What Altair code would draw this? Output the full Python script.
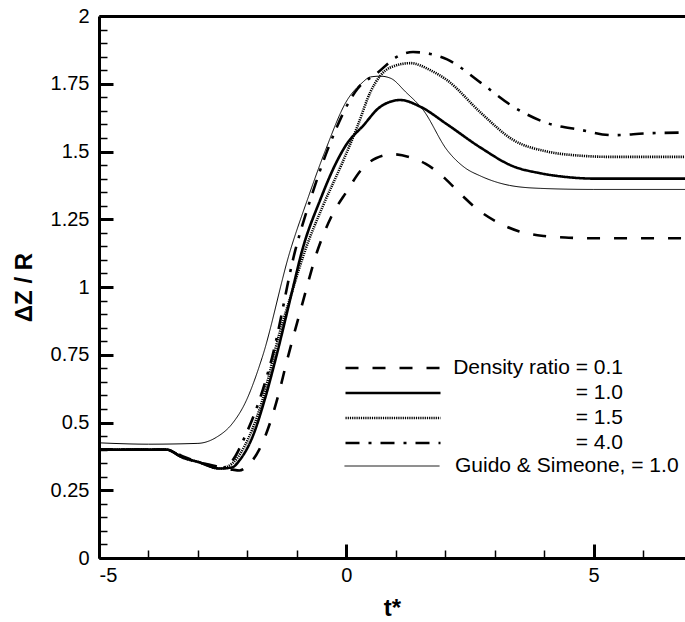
import altair as alt
import pandas as pd

# ---------------- data ----------------
sim_names = ["Density ratio = 0.1", "= 1.0", "= 1.5", "= 4.0"]
ref_names = ["Guido & Simeone, = 1.0"]

x01 = [-5.0, -4.0, -3.6, -3.3, -3.0, -2.6, -2.3, -2.16, -2.0, -1.76, -1.52, -1.36, -1.21, -0.9,
       -0.59, -0.3, 0.0, 0.34, 0.6, 0.95, 1.3, 1.6, 2.0, 2.3, 2.7, 3.1, 3.5, 4.0, 4.5, 5.0, 6.0, 6.85]
y01 = [0.40, 0.40, 0.40, 0.375, 0.355, 0.337, 0.326, 0.323, 0.34, 0.40, 0.51, 0.61, 0.72, 0.93,
       1.13, 1.26, 1.35, 1.44, 1.475, 1.49, 1.478, 1.455, 1.40, 1.345, 1.28, 1.235, 1.205, 1.188,
       1.182, 1.18, 1.18, 1.18]

x10 = [-5.0, -4.0, -3.64, -3.3, -2.97, -2.55, -2.3, -2.16, -1.9, -1.64, -1.42, -1.1, -0.89, -0.53,
       -0.2, 0.0, 0.34, 0.69, 1.09, 1.5, 2.04, 2.71, 3.38, 3.92, 4.5, 5.0, 6.0, 6.85]
y10 = [0.40, 0.40, 0.40, 0.37, 0.353, 0.33, 0.335, 0.36, 0.445, 0.59, 0.74, 0.98, 1.136, 1.32,
       1.46, 1.525, 1.595, 1.665, 1.69, 1.665, 1.60, 1.515, 1.445, 1.42, 1.405, 1.40, 1.40, 1.40]

x15 = [-5.0, -4.0, -3.64, -3.3, -2.97, -2.55, -2.3, -1.97, -1.7, -1.5, -1.44, -1.1, -0.83, -0.47,
       -0.1, 0.22, 0.49, 0.89, 1.3, 1.7, 2.04, 2.71, 3.38, 4.06, 4.7, 5.4, 6.0, 6.85]
y15 = [0.40, 0.40, 0.40, 0.37, 0.353, 0.33, 0.35, 0.445, 0.58, 0.72, 0.766, 0.98, 1.136, 1.30,
       1.45, 1.59, 1.72, 1.81, 1.826, 1.80, 1.763, 1.645, 1.542, 1.50, 1.485, 1.48, 1.48, 1.48]

x40 = [-5.0, -4.0, -3.64, -3.3, -2.97, -2.55, -2.3, -2.02, -1.78, -1.5, -1.03, -0.73, -0.38, 0.22,
       0.63, 1.03, 1.35, 1.7, 2.04, 2.71, 3.38, 4.06, 4.73, 5.4, 6.08, 6.85]
y40 = [0.40, 0.40, 0.40, 0.37, 0.353, 0.33, 0.36, 0.46, 0.57, 0.74, 1.136, 1.32, 1.505, 1.73,
       1.79, 1.85, 1.867, 1.86, 1.84, 1.755, 1.665, 1.605, 1.58, 1.56, 1.567, 1.57]

xgs = [-5.0, -4.0, -3.0, -2.63, -2.3, -2.05, -1.7, -1.13, -0.79, -0.42, 0.02, 0.3, 0.49, 0.69,
       0.9, 1.2, 1.56, 2.04, 2.4, 2.71, 3.3, 3.92, 5.0, 6.0, 6.85]
ygs = [0.425, 0.42, 0.423, 0.445, 0.497, 0.57, 0.74, 1.136, 1.32, 1.505, 1.69, 1.75, 1.775, 1.778,
       1.77, 1.72, 1.652, 1.505, 1.44, 1.41, 1.375, 1.364, 1.36, 1.36, 1.36]

x_ticks_major = [-5, 0, 5]
x_ticks_minor = [-4, -3, -2, -1, 1, 2, 3, 4, 6]
y_ticks_major = [0, 0.25, 0.5, 0.75, 1, 1.25, 1.5, 1.75, 2]
y_ticks_minor = [round(i * 0.05, 2) for i in range(41) if i % 5 != 0]

sim_rows = []
for name, xs, ys in zip(sim_names, [x01, x10, x15, x40], [y01, y10, y15, y40]):
    sim_rows += [{"series": name, "t": a, "dz": b} for a, b in zip(xs, ys)]
sim_df = pd.DataFrame(sim_rows)
ref_df = pd.DataFrame({"series": ref_names * len(xgs), "t": xgs, "dz": ygs})
all_df = pd.concat([sim_df, ref_df], ignore_index=True)

# ---------------- styling ----------------
FONT = "Liberation Sans"
W, H = 586, 542
xscale = alt.Scale(domain=[-5, 6.85], nice=False, zero=False)
yscale = alt.Scale(domain=[0, 2], nice=False, zero=False)
sim_dash = [[13, 14], [1, 0], [1.2, 1.0], [14, 9, 3, 9]]

common_legend = dict(
    title=None, orient="none", symbolType="stroke", symbolSize=9025,
    symbolStrokeColor="black", clipHeight=24, rowPadding=1, padding=0, offset=0,
    labelFont=FONT, labelFontSize=21, labelColor="black", labelBaseline="middle",
    labelLimit=400,
)

x_main = alt.X("t:Q", scale=xscale, axis=alt.Axis(
    orient="bottom", values=x_ticks_major, labelExpr="datum.value + ''",
    ticks=False, tickSize=0, domain=True, domainColor="black", domainWidth=3, grid=False,
    labelFont=FONT, labelFontSize=20, labelColor="black", labelPadding=7,
    title="t*", titleFont=FONT, titleFontSize=24, titleFontWeight="bold",
    titleColor="black", titlePadding=11))
y_main = alt.Y("dz:Q", scale=yscale, axis=alt.Axis(
    orient="left", values=y_ticks_major, labelExpr="datum.value + ''",
    ticks=False, tickSize=0, domain=True, domainColor="black", domainWidth=3, grid=False,
    labelFont=FONT, labelFontSize=20, labelColor="black", labelPadding=10,
    title="ΔZ / R", titleFont=FONT, titleFontSize=24, titleFontWeight="bold",
    titleColor="black", titlePadding=14))

sim_lines = alt.Chart(sim_df).mark_line(
    color="black", strokeWidth=2.6, interpolate="monotone", clip=True
).encode(
    x=x_main,
    y=y_main,
    strokeDash=alt.StrokeDash(
        "series:N", sort=None,
        scale=alt.Scale(domain=sim_names, range=sim_dash),
        legend=alt.Legend(legendX=245, legendY=340, symbolStrokeWidth=2.6,
                          labelAlign="right", labelOffset=181, **common_legend)),
)

ref_line = alt.Chart(ref_df).mark_line(
    color="black", strokeWidth=1, interpolate="monotone", clip=True
).encode(
    x=alt.X("t:Q", scale=xscale, axis=None),
    y=alt.Y("dz:Q", scale=yscale, axis=None),
    strokeDash=alt.StrokeDash(
        "series:N",
        scale=alt.Scale(domain=ref_names, range=[[1, 0]]),
        legend=alt.Legend(legendX=245, legendY=438, symbolStrokeWidth=1,
                          labelAlign="left", labelOffset=15, **common_legend)),
)

ghost = alt.Chart(all_df).mark_point(opacity=0)

major = ghost.encode(
    x=alt.X("t:Q", scale=xscale, axis=alt.Axis(
        orient="bottom", values=x_ticks_major, labels=False, domain=False, grid=False,
        ticks=True, tickSize=14, tickWidth=3, tickColor="black", offset=-14, title=None)),
    y=alt.Y("dz:Q", scale=yscale, axis=alt.Axis(
        orient="left", values=y_ticks_major, labels=False, domain=False, grid=False,
        ticks=True, tickSize=14, tickWidth=3, tickColor="black", offset=-14, title=None)),
)

minor = ghost.encode(
    x=alt.X("t:Q", scale=xscale, axis=alt.Axis(
        orient="bottom", values=x_ticks_minor, labels=False, domain=False, grid=False,
        ticks=True, tickSize=8, tickWidth=1.5, tickColor="black", offset=-8, title=None)),
    y=alt.Y("dz:Q", scale=yscale, axis=alt.Axis(
        orient="left", values=y_ticks_minor, labels=False, domain=False, grid=False,
        ticks=True, tickSize=8, tickWidth=1.5, tickColor="black", offset=-8, title=None)),
)

border = ghost.encode(
    x=alt.X("t:Q", scale=xscale, axis=alt.Axis(
        orient="top", labels=False, ticks=False, domain=True, domainWidth=3,
        domainColor="black", grid=False, title=None)),
    y=alt.Y("dz:Q", scale=yscale, axis=None),
)

chart = alt.layer(sim_lines, ref_line, major, minor, border).resolve_axis(
    x="independent", y="independent"
).resolve_scale(
    strokeDash="independent"
).properties(
    width=W, height=H,
    autosize=alt.AutoSizeParams(type="none"),
    padding={"left": 99, "top": 16, "right": 0, "bottom": 64},
    background="white",
).configure_view(stroke=None)

chart.save("out.html", embed_options={"renderer": "svg", "actions": False})
